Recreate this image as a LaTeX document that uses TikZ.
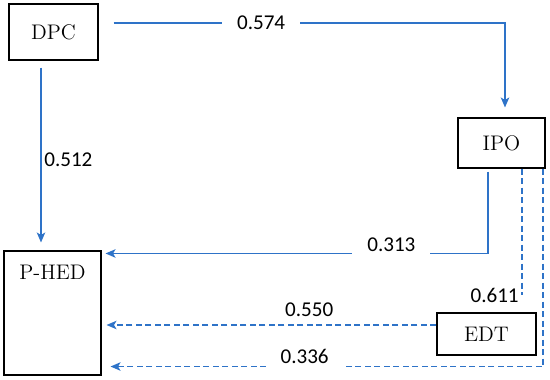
\documentclass[tikz,border=0pt]{standalone}
\usepackage{fontspec}
\newfontfamily\numfont{Carlito}
\definecolor{lineblue}{HTML}{2E73C8}
\usetikzlibrary{arrows.meta, positioning, calc}
\tikzset{
  box/.style={draw=black, semithick, fill=white, inner sep=0pt, font=\large},
  flow/.style={-{Stealth[length=2mm, width=1.7mm, inset=0.5mm]}, thick, color=lineblue},
  dline/.style={thick, color=lineblue, dash pattern=on 1.2mm off 0.7mm},
  dflow/.style={dline, -{Stealth[length=2mm, width=1.7mm, inset=0.5mm]}},
  lbl/.style={font=\numfont\large, text=black, fill=white, inner xsep=3mm, inner ysep=0.6mm},
  num/.style={font=\numfont\large, text=black, inner sep=1.5pt},
}
\begin{document}
\begin{tikzpicture}
        \useasboundingbox (0,0) rectangle (11,-7.6);
        \node[box, minimum width=1.78cm, minimum height=1.12cm] (dpc) at (1.07,-0.64) {DPC};
        \node[box, minimum width=1.74cm, minimum height=1cm] (ipo) at (10.03,-2.86) {IPO};
        \node[box, minimum width=1.94cm, text height=0.58cm, text depth=1.9cm] (phed) at (1.05,-6.26) {P-HED};
        \node[box, minimum width=1.98cm, minimum height=0.84cm] (edt) at (9.73,-6.68) {EDT};
        % solid paths
        \draw[flow, shorten <=3mm, shorten >=2mm] ([yshift=1.8mm]dpc.east) -| node[lbl, pos=0.2] {0.574} ([xshift=0.7mm]ipo.north);
        \draw[flow, shorten <=1.4mm, shorten >=1.6mm] ([xshift=-2.5mm]dpc.south) -- ([xshift=-2.5mm]dpc.south |- phed.north) node[num, pos=0.52, right] {0.512};
        \draw[flow, shorten <=0.6mm, shorten >=0.8mm] ([xshift=-2.7mm]ipo.south) |- ([yshift=-0.6mm]phed.north east) node[lbl, pos=0.625, yshift=1.8mm] {0.313};
        % dashed paths
        \draw[dline, shorten >=3.4mm] ([xshift=4.1mm]ipo.south) -- ([xshift=4.1mm]ipo.south |- edt.north) node[num, pos=0.88, left] {0.611};
        \draw[dflow, shorten >=1mm] ([yshift=1.8mm]edt.west) -- ([yshift=1.8mm]edt.west -| phed.east) node[num, pos=0.38, above, yshift=1mm] {0.550};
        \draw[dflow, shorten >=1.8mm] ([xshift=-0.5mm]ipo.south east) |- ([yshift=1.8mm]phed.south east) node[lbl, pos=0.77, yshift=2mm] {0.336};
      \end{tikzpicture}
\end{document}
